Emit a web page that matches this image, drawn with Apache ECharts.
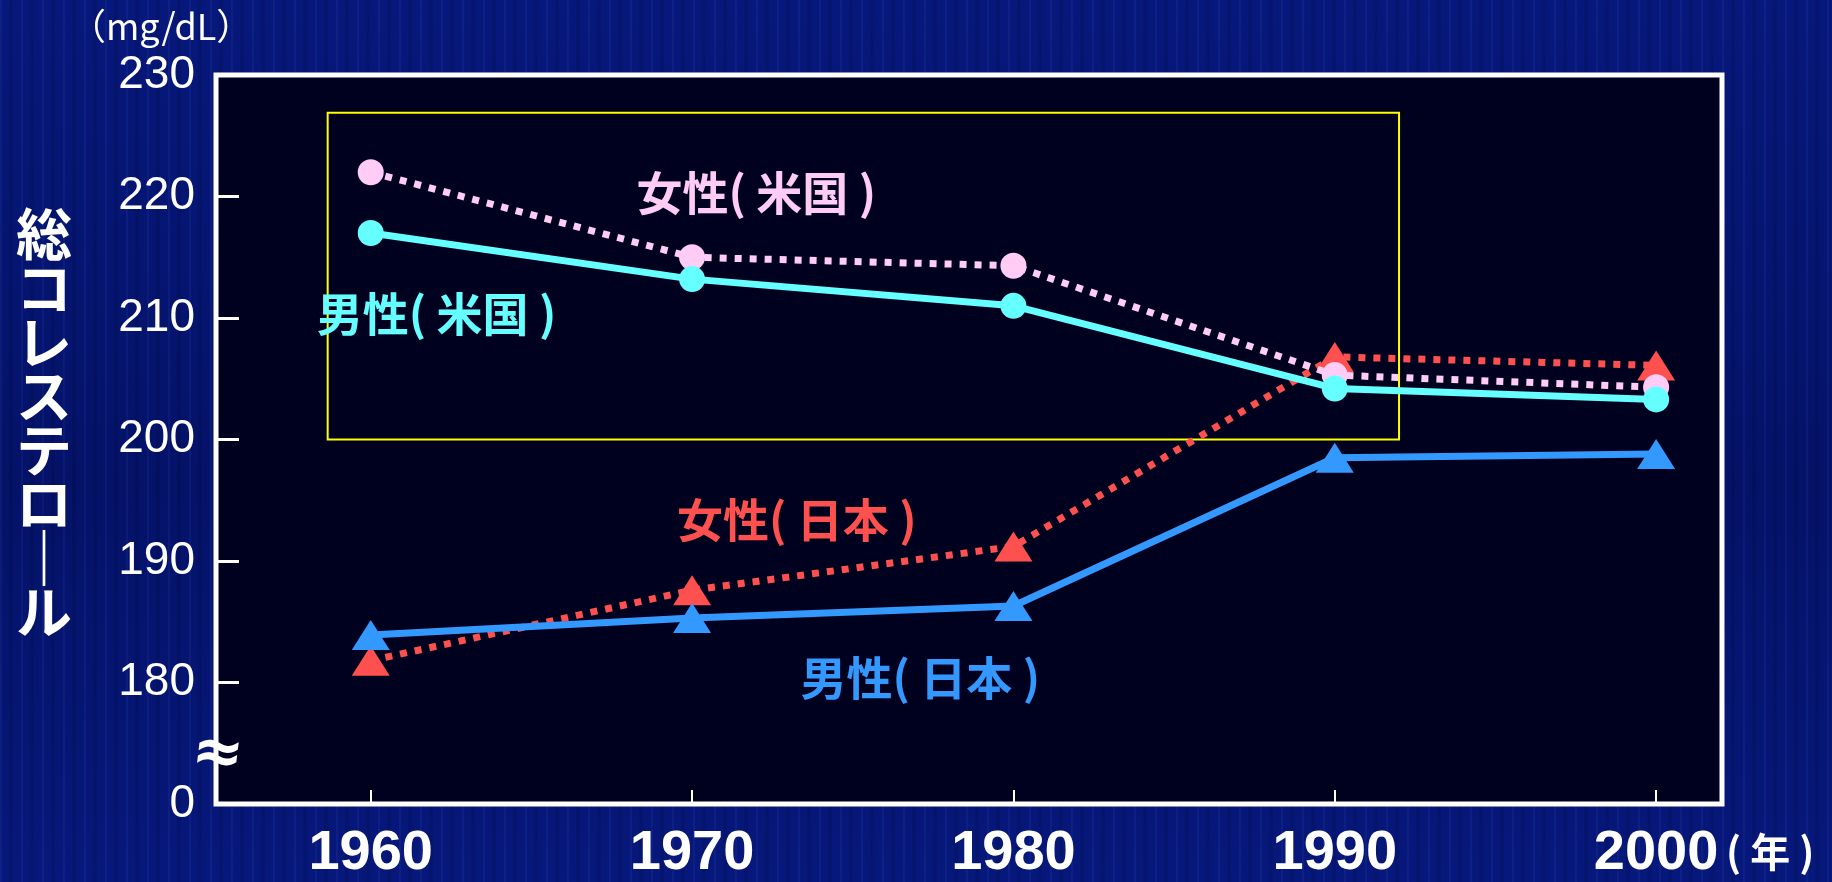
<!DOCTYPE html>
<html>
<head>
<meta charset="utf-8">
<title>総コレステロールの推移</title>
<script src="https://cdn.jsdelivr.net/npm/echarts@6/dist/echarts.min.js"></script>
<style>
  html, body { margin: 0; padding: 0; }
  body {
    width: 1832px;
    height: 882px;
    overflow: hidden;
    background:
      repeating-linear-gradient(90deg, rgba(70, 100, 210, 0.10) 0 2px, rgba(0, 0, 0, 0) 2px 9px, rgba(0, 8, 50, 0.18) 9px 13px, rgba(0, 0, 0, 0) 13px 21px),
      linear-gradient(180deg, #07187c 0%, #041268 55%, #07187c 100%);
  }
  #main { width: 1832px; height: 882px; }
</style>
</head>
<body>
<div id="main"></div>
<script>
  // 年（x軸）
  const years = [1960, 1970, 1980, 1990, 2000]

  // 総コレステロール (mg/dL)
  const femaleUS = [222.0, 215.0, 214.3, 205.3, 204.3]
  const maleUS = [217.0, 213.2, 211.0, 204.2, 203.3]
  const femaleJP = [181.8, 187.6, 191.2, 206.8, 206.1]
  const maleJP = [183.9, 185.3, 186.3, 198.5, 198.8]

  // 目盛り（170 は軸の切れ目で「0」と表示）
  const yTicks = [170, 180, 190, 200, 210, 220, 230]
  const seriesNames = ['女性( 米国 )', '男性( 米国 )', '女性( 日本 )', '男性( 日本 )']

  const pts = (vals) => years.map((y, i) => [y, vals[i]])

  const labelFont = 'Noto Sans CJK JP'

  const nameLabel = (text, coord, color) => ({
    symbol: 'circle',
    symbolSize: 0,
    silent: true,
    data: [{
      coord,
      label: {
        show: true,
        position: 'inside',
        formatter: text,
        color,
        fontSize: 46,
        fontWeight: 'bold',
        fontFamily: labelFont
      }
    }]
  })

  const chart = echarts.init(document.getElementById('main'), null, { renderer: 'canvas' })

  chart.setOption({
    animation: false,
    backgroundColor: 'transparent',
    grid: {
      left: 216,
      top: 75,
      width: 1506,
      height: 729,
      outerBoundsMode: 'none',
      containLabel: false,
      show: true,
      backgroundColor: '#00001f',
      borderColor: '#ffffff',
      borderWidth: 5
    },
    xAxis: {
      type: 'value',
      min: 1955.185,
      max: 2002.05,
      splitLine: { show: false },
      axisLine: { show: false },
      axisTick: {
        show: true,
        inside: true,
        length: 14,
        customValues: years,
        lineStyle: { color: '#ffffff', width: 2 }
      },
      axisLabel: {
        customValues: years,
        margin: 22,
        color: '#ffffff',
        fontSize: 56,
        fontWeight: 'bold',
        fontFamily: 'Liberation Sans, Arial, sans-serif',
        formatter: (v) => String(v)
      },
      name: '( 年 )',
      nameLocation: 'end',
      nameGap: 4,
      nameTextStyle: {
        color: '#ffffff',
        fontSize: 40,
        fontWeight: 'bold',
        fontFamily: labelFont,
        verticalAlign: 'top',
        align: 'left',
        padding: [28, 0, 0, 0]
      }
    },
    yAxis: {
      type: 'value',
      min: yTicks[0],
      max: yTicks[yTicks.length - 1],
      interval: 10,
      splitLine: { show: false },
      axisLine: { show: false },
      axisTick: {
        show: true,
        inside: true,
        length: 23,
        lineStyle: { color: '#ffffff', width: 3 }
      },
      axisLabel: {
        margin: 21,
        color: '#ffffff',
        fontSize: 46,
        fontFamily: 'Liberation Sans, sans-serif',
        padding: [12, 0, 0, 0],
        formatter: (v) => (v === yTicks[0] ? '0' : String(v))
      }
    },
    graphic: [
      {
        type: 'text',
        left: 70,
        top: 8,
        style: {
          text: '（mg/dL）',
          fill: '#ffffff',
          font: '36px "Noto Sans CJK JP"'
        }
      },
      {
        type: 'text',
        left: 16,
        top: 206,
        style: {
          text: ['総', 'コ', 'レ', 'ス', 'テ', 'ロ', '｜', 'ル'].join('\n'),
          fill: '#ffffff',
          font: 'bold 56px "Noto Sans CJK JP"',
          lineHeight: 54,
          align: 'left'
        }
      },
      {
        type: 'text',
        left: 188,
        top: 722,
        rotation: -0.12,
        z: 100,
        style: {
          text: '≈',
          fill: '#ffffff',
          font: 'bold 62px "DejaVu Sans"'
        }
      }
    ],
    series: [
      {
        name: seriesNames[2],
        type: 'line',
        data: pts(femaleJP),
        symbol: 'triangle',
        symbolSize: [38, 30],
        itemStyle: { color: '#ff5050' },
        lineStyle: { color: '#ff5050', width: 7, type: [7, 8] },
        emphasis: { disabled: true },
        markPoint: nameLabel(seriesNames[2], [1973.26, 193.4], '#ff5050'),
        z: 2
      },
      {
        name: seriesNames[0],
        type: 'line',
        data: pts(femaleUS),
        symbol: 'circle',
        symbolSize: 26,
        itemStyle: { color: '#ffccf6' },
        lineStyle: { color: '#ffccf6', width: 7, type: [7, 8] },
        emphasis: { disabled: true },
        markPoint: nameLabel(seriesNames[0], [1972.0, 220.3], '#ffccf6'),
        markArea: {
          silent: true,
          itemStyle: {
            color: 'rgba(0,0,0,0)',
            borderColor: '#ffff00',
            borderWidth: 2
          },
          data: [[{ coord: [1958.66, 226.9] }, { coord: [1992.0, 200.0] }]]
        },
        z: 3
      },
      {
        name: seriesNames[1],
        type: 'line',
        data: pts(maleUS),
        symbol: 'circle',
        symbolSize: 26,
        itemStyle: { color: '#66ffff' },
        lineStyle: { color: '#66ffff', width: 7 },
        emphasis: { disabled: true },
        markPoint: nameLabel(seriesNames[1], [1962.05, 210.4], '#66ffff'),
        z: 4
      },
      {
        name: seriesNames[3],
        type: 'line',
        data: pts(maleJP),
        symbol: 'triangle',
        symbolSize: [38, 30],
        itemStyle: { color: '#3399ff' },
        lineStyle: { color: '#3399ff', width: 7 },
        emphasis: { disabled: true },
        markPoint: nameLabel(seriesNames[3], [1977.1, 180.4], '#3399ff'),
        z: 5
      }
    ]
  })
</script>
</body>
</html>
